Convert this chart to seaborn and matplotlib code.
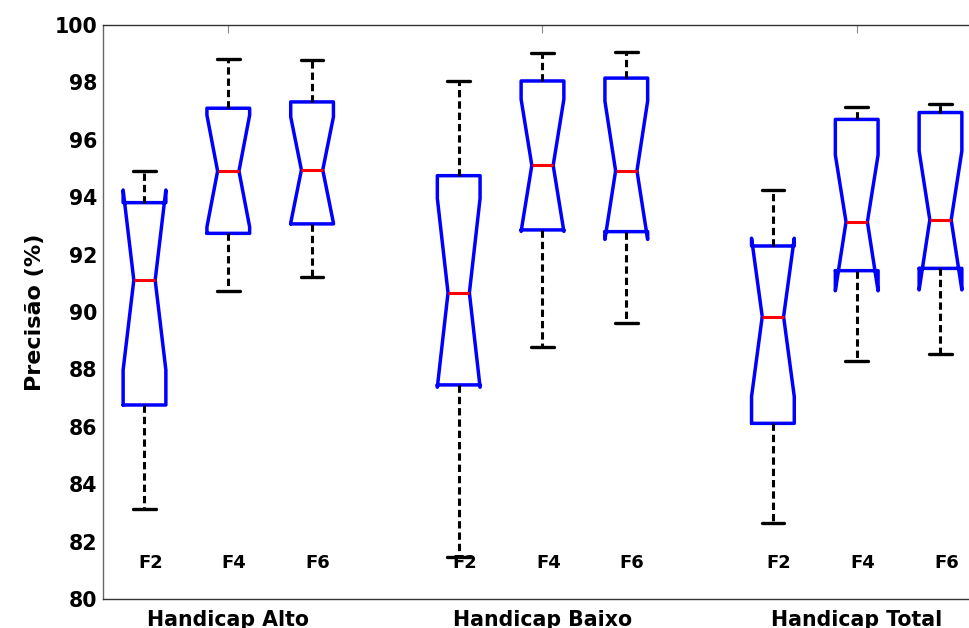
import matplotlib
matplotlib.use("Agg")
import matplotlib.pyplot as plt
import seaborn as sns

groups = ["Handicap Alto", "Handicap Baixo", "Handicap Total"]
filters = ["F2", "F4", "F6"]

# box statistics, group by group (Alto, Baixo, Total),
# F2, F4, F6 inside each group
whisker_low = [83.13, 90.73, 91.21, 81.45, 88.79, 89.63, 82.64, 88.30, 88.54]
q1 = [86.76, 92.74, 93.07, 87.46, 92.86, 92.80, 86.12, 91.44, 91.52]
notch_low = [87.98, 92.96, 93.10, 87.38, 92.81, 92.53, 87.05, 90.74, 90.77]
median = [91.11, 94.91, 94.95, 90.67, 95.11, 94.92, 89.84, 93.14, 93.21]
notch_high = [94.25, 96.86, 96.80, 93.96, 97.41, 97.35, 92.57, 95.47, 95.61]
q3 = [93.81, 97.10, 97.32, 94.75, 98.05, 98.15, 92.30, 96.71, 96.95]
whisker_high = [94.91, 98.82, 98.78, 98.05, 99.04, 99.06, 94.25, 97.13, 97.25]

sns.set_theme(style="white")
plt.rcParams["font.family"] = ["DejaVu Sans"]
plt.rcParams["font.weight"] = "bold"
plt.rcParams["axes.labelweight"] = "bold"
plt.rcParams["text.color"] = "black"
plt.rcParams["axes.labelcolor"] = "black"

stats = []
for i in range(len(median)):
    stats.append({
        "whislo": whisker_low[i],
        "q1": q1[i],
        "cilo": notch_low[i],
        "med": median[i],
        "cihi": notch_high[i],
        "q3": q3[i],
        "whishi": whisker_high[i],
        "fliers": [],
    })

group_centers = [1.0, 4.75, 8.5]
positions = [c + off for c in group_centers for off in (-1, 0, 1)]

fig = plt.figure(figsize=(9.7, 6.28), dpi=100)
ax = fig.add_axes([102.6 / 970, 1 - 599 / 628, 875.6 / 970, 574 / 628])

ax.bxp(
    stats,
    positions=positions,
    widths=0.51,
    capwidths=0.27,
    shownotches=True,
    showfliers=False,
    manage_ticks=False,
    boxprops=dict(color="#0000ff", linewidth=2.5),
    whiskerprops=dict(color="black", linewidth=2.2, linestyle=(0, (2.4, 1.3))),
    capprops=dict(color="black", linewidth=2.4),
    medianprops=dict(color="#ff0000", linewidth=2.2),
)

# MATLAB-style labels for each box, written inside the axes
for pos, name in zip(positions, filters * len(groups)):
    ax.text(pos + 0.07, 81.25, name, ha="center", va="center",
            fontsize=13, fontweight="bold", color="black")

ax.set_xlim(-0.5, 9.95)
ax.set_ylim(80, 100)
ax.set_yticks(range(80, 101, 2))
ax.set_xticks(group_centers, groups)
ax.set_ylabel("Precisão (%)", fontsize=16, labelpad=7, color="black")

ax.tick_params(axis="both", direction="in", length=6, width=0.8,
               color="#888888", labelsize=14.8, top=True, right=True,
               labelcolor="black")
ax.tick_params(axis="x", pad=8)
ax.tick_params(axis="y", pad=4)

for side, spine in ax.spines.items():
    spine.set_visible(True)
    spine.set_linewidth(1.0)
    spine.set_color("#333333" if side != "left" else "#666666")

fig.savefig("out.png", dpi=100)
